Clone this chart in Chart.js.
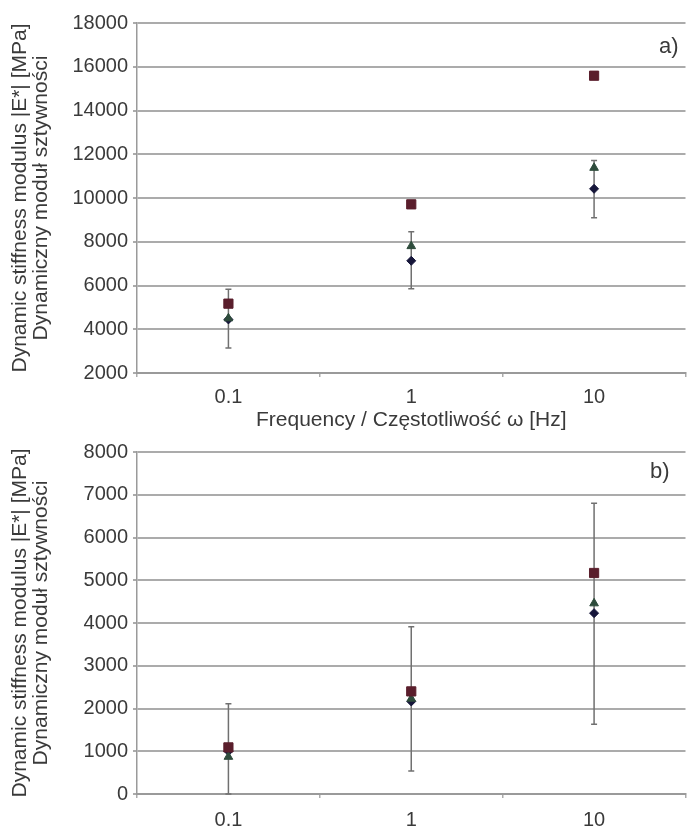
<!DOCTYPE html>
<html>
<head>
<meta charset="utf-8">
<script src="https://cdn.jsdelivr.net/npm/chart.js@4.4.1/dist/chart.umd.min.js"></script>
<style>
  body { margin: 0; background: #fff; }
  .panel { position: absolute; left: 0; }
  #panelA { top: 0; }
  #panelB { top: 430px; }
</style>
</head>
<body>
<div class="panel" id="panelA"><canvas id="chartA" width="693" height="440"></canvas></div>
<div class="panel" id="panelB"><canvas id="chartB" width="693" height="398"></canvas></div>
<script>
// frequency categories (Hz)
const categories = ['0.1', '1', '10'];

// panel a)
const aSquare = [5170, 9710, 15590];
const aTriangle = [4500, 7800, 11380];
const aDiamond = [4450, 7130, 10420];
const aErrLow = [3140, 5850, 9100];
const aErrHigh = [5830, 8460, 11720];
const aTicks = [2000, 4000, 6000, 8000, 10000, 12000, 14000, 16000, 18000];

// panel b)
const bSquare = [1090, 2400, 5170];
const bTriangle = [870, 2230, 4460];
const bDiamond = [1000, 2165, 4230];
const bErrLow = [0, 540, 1630];
const bErrHigh = [2110, 3910, 6800];
const bTicks = [0, 1000, 2000, 3000, 4000, 5000, 6000, 7000, 8000];

const yTitle = ['Dynamic stiffness modulus |E*| [MPa]', 'Dynamiczny moduł sztywności'];
const xTitle = 'Frequency / Częstotliwość ω [Hz]';

const FONT = '"Liberation Sans", Arial, sans-serif';
const TEXT = '#3a3a3a';
const GRID = '#ababab';

Chart.defaults.font.family = FONT;
Chart.defaults.color = TEXT;

// vertical error bars with small caps, drawn below the markers
const errorBars = {
  id: 'errorBars',
  beforeDatasetsDraw(chart, args, opts) {
    const { ctx, scales: { x, y } } = chart;
    ctx.save();
    ctx.strokeStyle = '#707070';
    ctx.lineWidth = 1.5;
    opts.low.forEach((lo, i) => {
      const px = x.getPixelForValue(i);
      const y1 = y.getPixelForValue(lo);
      const y2 = y.getPixelForValue(opts.high[i]);
      ctx.beginPath();
      ctx.moveTo(px, y1); ctx.lineTo(px, y2);
      ctx.moveTo(px - 3, y1); ctx.lineTo(px + 3, y1);
      ctx.moveTo(px - 3, y2); ctx.lineTo(px + 3, y2);
      ctx.stroke();
    });
    ctx.restore();
  }
};

// "a)" / "b)" in the upper right corner
const panelLabel = {
  id: 'panelLabel',
  afterDraw(chart, args, opts) {
    const { ctx, chartArea } = chart;
    ctx.save();
    ctx.font = '22px ' + FONT;
    ctx.fillStyle = TEXT;
    ctx.textAlign = 'right';
    ctx.textBaseline = 'middle';
    ctx.fillText(opts.text, chartArea.right - opts.dx, chartArea.top + opts.dy);
    ctx.restore();
  }
};

function makeChart(id, sq, tri, dia, lo, hi, ticks, cfg) {
  return new Chart(document.getElementById(id), {
    type: 'line',
    data: {
      labels: categories,
      datasets: [
        { data: sq, pointStyle: 'rect', pointRadius: 6.5, backgroundColor: '#5a1e2c', borderColor: '#5a1e2c', borderWidth: 1 },
        { data: tri, pointStyle: 'triangle', pointRadius: 5, backgroundColor: '#2e4c3c', borderColor: '#2e4c3c', borderWidth: 1 },
        { data: dia, pointStyle: 'rectRot', pointRadius: 4.5, backgroundColor: '#16163a', borderColor: '#16163a', borderWidth: 1 }
      ].map(d => Object.assign(d, { showLine: false, pointHoverRadius: d.pointRadius }))
    },
    options: {
      responsive: false,
      animation: false,
      events: [],
      layout: { padding: { top: cfg.top, right: 0, left: 0, bottom: 0 } },
      plugins: {
        legend: { display: false },
        tooltip: { enabled: false },
        errorBars: { low: lo, high: hi },
        panelLabel: cfg.label
      },
      scales: {
        x: {
          type: 'category',
          offset: true,
          afterFit: s => { s.height = cfg.xHeight; },
          grid: { offset: true, drawOnChartArea: false, tickLength: 4, color: GRID, lineWidth: 1.5 },
          border: { color: '#9a9a9a', width: 2 },
          ticks: { font: { size: 20 }, padding: cfg.xPad, color: TEXT },
          title: cfg.xTitle ? { display: true, text: xTitle, font: { size: 21 }, padding: { top: 0, bottom: cfg.xTitlePad }, color: TEXT } : { display: false }
        },
        y: {
          min: ticks[0],
          max: ticks[ticks.length - 1],
          afterFit: s => { s.width = 137; },
          afterBuildTicks: s => { s.ticks = ticks.map(v => ({ value: v })); },
          grid: { color: GRID, lineWidth: 2, tickLength: 4 },
          border: { color: '#9a9a9a', width: 1.5 },
          ticks: { font: { size: 20 }, padding: 5, color: TEXT, callback: v => String(v) },
          title: { display: true, text: yTitle, font: { size: 21, lineHeight: 0.98 }, padding: { top: 10, bottom: 0 }, color: TEXT }
        }
      }
    },
    plugins: [errorBars, panelLabel]
  });
}

makeChart('chartA', aSquare, aTriangle, aDiamond, aErrLow, aErrHigh, aTicks, {
  top: 23, xHeight: 67, xPad: 8, xTitle: true, xTitlePad: 7,
  label: { text: 'a)', dx: 7, dy: 24 }
});

makeChart('chartB', bSquare, bTriangle, bDiamond, bErrLow, bErrHigh, bTicks, {
  top: 22, xHeight: 34, xPad: 10, xTitle: false,
  label: { text: 'b)', dx: 16, dy: 20 }
});
</script>
</body>
</html>
